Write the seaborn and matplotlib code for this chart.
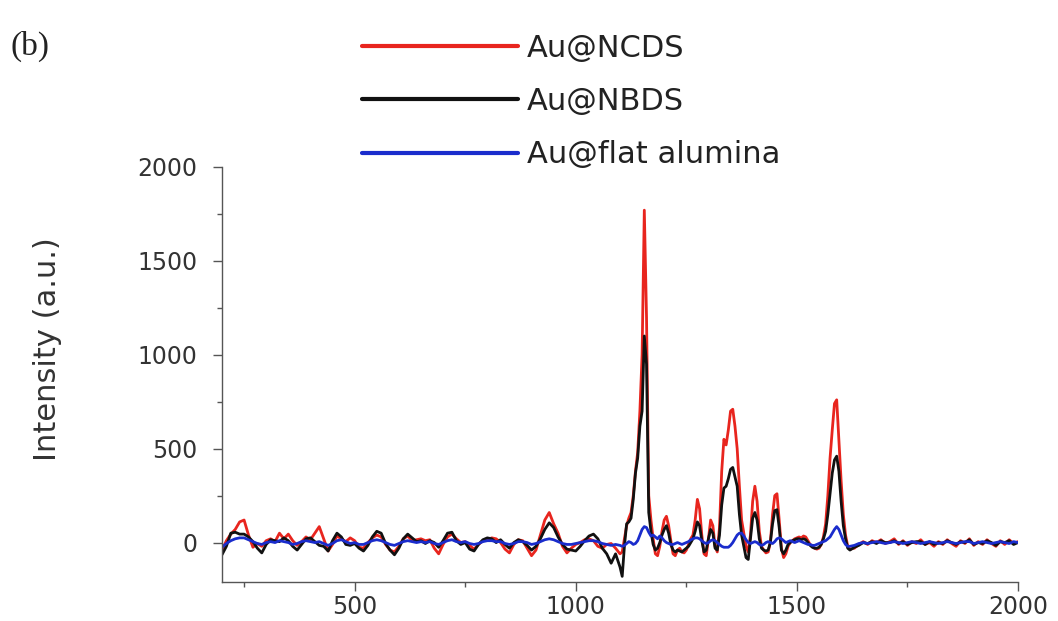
import matplotlib
matplotlib.use('Agg')
import matplotlib.pyplot as plt
import numpy as np
import pandas as pd
import seaborn as sns

# wavenumber sampling grid (cm-1): coarse outside the band region, fine inside
wn_low = np.arange(200, 1100, 10)
wn_band = np.arange(1100, 1625, 5)
wn_high = np.arange(1630, 2010, 10)
wavenumber = np.concatenate([wn_low, wn_band, wn_high])

# Au@NCDS (red)
ncds_low = [
    -40, 10, 45, 70, 110, 120, 40, -25, -5, -20,
    10, 20, 5, 50, 20, 45, 10, -15, 5, 30,
    15, 50, 85, 20, -45, -10, 35, 20, 5, 25,
    10, -25, -30, 0, 25, 40, 30, -10, -40, -50,
    -20, 20, 35, 10, 15, 20, 10, 15, -30, -60,
    -10, 30, 45, 20, 0, 5, -15, -35, -10, 10,
    15, 25, 20, 0, -35, -55, -10, 15, 10, -30,
    -70, -40, 40, 120, 160, 100, 50, -20, -55, -30,
    -10, 0, 15, 20, 10, -20, -30, -10, -5, -30,
]
ncds_band = [
    -60, -50, 20, 90, 130, 160, 250, 380, 480, 700,
    1000, 1770, 1200, 250, 120, 20, -60, -70, -20, 60,
    120, 140, 90, 10, -60, -70, -40, -30, -50, -55,
    -40, -10, 20, 40, 120, 230, 180, 40, -60, -70,
    20, 120, 90, -20, -50, 80, 380, 550, 520, 600,
    700, 710, 620, 500, 300, 120, 50, -20, -50, 40,
    220, 300, 220, 60, -20, -40, -55, -50, 0, 150,
    250, 260, 120, -30, -80, -60, -20, 0, 10, 20,
    25, 30, 25, 35, 30, 10, -10, -20, -30, -35,
    -30, -10, 30, 100, 250, 450, 600, 740, 760, 550,
    330, 150, 40, -20, -35,
]
ncds_high = [
    -30, -10, 5, -10, 10, 0, 15, -5, 5, 20,
    -10, 10, -15, 5, -5, 15, -10, 0, -20, 5,
    -10, 15, -5, -20, 10, -5, 20, -15, 5, -10,
    15, -5, -20, 10, -10, 15, -5, 5,
]

# Au@NBDS (black)
nbds_low = [
    -65, -20, 50, 55, 45, 45, 30, 5, -30, -55,
    -10, 15, 10, 5, 25, 10, -20, -40, -10, 20,
    25, 5, -15, -20, -45, 10, 50, 30, -10, -15,
    -5, -30, -45, -15, 30, 60, 50, -5, -40, -65,
    -30, 20, 45, 25, 5, 10, -5, 10, 0, -25,
    10, 50, 55, 10, -10, 0, -35, -45, -10, 15,
    25, 20, 0, 15, -10, -30, 0, 15, 5, -15,
    -40, -20, 20, 70, 105, 80, 30, -10, -35, -40,
    -45, -20, 10, 35, 45, 20, -30, -60, -110, -60,
]
nbds_band = [
    -130, -180, -20, 100, 110, 130, 230, 370, 450, 620,
    700, 1100, 950, 160, 60, -10, -40, -30, 0, 40,
    70, 90, 50, -10, -40, -50, -40, -45, -50, -40,
    -30, -20, 0, 20, 60, 110, 90, 10, -50, -40,
    20, 70, 50, -30, -40, 40, 200, 290, 300, 340,
    390, 400, 350, 300, 150, 40, -20, -80, -90, 20,
    130, 160, 120, 20, -30, -40, -45, -40, 0, 100,
    170, 175, 80, -40, -60, -40, -10, 0, 10, 15,
    20, 20, 15, 20, 15, 0, -15, -25, -30, -30,
    -25, -10, 20, 60, 150, 260, 370, 440, 460, 380,
    220, 90, 20, -30, -40,
]
nbds_high = [
    -25, -15, 0, -5, 5, -5, 10, 0, 0, 10,
    -5, 5, -10, 0, 5, 5, -10, 5, -10, 0,
    -5, 10, 0, -10, 5, 0, 15, -10, 0, -5,
    10, 0, -15, 5, 0, 10, -10, 0,
]

# Au@flat alumina (blue)
flat_low = [
    -25, -5, 10, 20, 25, 25, 15, 5, -5, -10,
    0, 5, 0, 10, 5, 0, -10, -5, 5, 10,
    5, 0, 5, -5, -15, -5, 10, 15, 5, -5,
    0, -10, -10, 0, 10, 15, 10, 0, -10, -15,
    -5, 5, 10, 5, 0, 5, 0, 5, -5, -10,
    0, 10, 15, 5, 0, 5, -5, -10, -5, 5,
    10, 10, 5, 5, -5, -10, -5, 5, 5, 0,
    -10, -5, 5, 15, 20, 15, 5, -5, -10, -10,
    -5, 0, 5, 10, 10, 5, -5, -10, -15, -10,
]
flat_band = [
    -15, -20, -15, -5, 5, 0, -10, -5, 10, 40,
    70, 85, 80, 55, 35, 40, 30, 20, 35, 25,
    10, 0, -5, -10, -10, -5, 0, -5, -10, -5,
    0, 5, 15, 20, 25, 25, 20, 10, 0, -5,
    0, 10, 15, 10, 0, -10, -20, -25, -25, -25,
    -15, 0, 20, 40, 50, 50, 35, 15, 0, -5,
    0, 5, 0, -10, -15, -10, 0, 5, 0, -5,
    5, 20, 25, 20, 10, 0, 5, 10, 5, 0,
    5, 10, 5, 0, -5, -10, -10, -15, -15, -10,
    -5, 0, 5, 10, 20, 30, 50, 70, 85, 70,
    40, 10, -10, -20, -20,
]
flat_high = [
    -15, -5, 0, -5, 0, 5, 0, -5, 0, 5,
    0, -5, 0, 5, 0, -5, 0, 5, 0, -5,
    0, 5, 0, -5, 0, 5, 5, -5, 0, 5,
    0, -5, 0, 5, 0, -5, 5, 0,
]

series_names = ['Au@NCDS', 'Au@NBDS', 'Au@flat alumina']
series_colors = ['#e8251e', '#111111', '#1a2ccc']
series_values = [
    ncds_low + ncds_band + ncds_high,
    nbds_low + nbds_band + nbds_high,
    flat_low + flat_band + flat_high,
]

frames = []
for name, vals in zip(series_names, series_values):
    frames.append(pd.DataFrame({'wavenumber': wavenumber, 'intensity': vals, 'sample': name}))
df = pd.concat(frames, ignore_index=True)

sns.set_theme(style='ticks')
plt.rcParams['font.family'] = ['DejaVu Sans']

fig = plt.figure(figsize=(10.58, 6.21), dpi=100)
ax = fig.add_axes([0.2098, 0.0628, 0.7524, 0.6683])

sns.lineplot(data=df, x='wavenumber', y='intensity', hue='sample',
             hue_order=series_names, palette=series_colors,
             estimator=None, sort=False, linewidth=2, ax=ax)

ax.set_xlim(200, 2000)
ax.set_ylim(-210, 2000)
ax.set_xticks([500, 1000, 1500, 2000])
ax.set_xticks([250, 750, 1250, 1750], minor=True)
ax.set_yticks([0, 500, 1000, 1500, 2000])
ax.set_yticks([250, 750, 1250, 1750], minor=True)

axis_grey = '#555555'
for side in ['top', 'right']:
    ax.spines[side].set_visible(False)
for side in ['left', 'bottom']:
    ax.spines[side].set_color(axis_grey)
    ax.spines[side].set_linewidth(1.0)

ax.tick_params(which='major', direction='out', length=6.5, width=1,
               color=axis_grey, labelsize=17, labelcolor='#333333')
ax.tick_params(which='minor', direction='out', length=3.5, width=1, color=axis_grey)
ax.tick_params(axis='y', which='major', pad=11)
ax.tick_params(axis='x', which='major', pad=3)

ax.set_xlabel('')
ax.set_ylabel('Intensity (a.u.)', fontsize=22, color='#333333')
ax.yaxis.set_label_coords(-0.201, 0.56)

handles, labels = ax.get_legend_handles_labels()
ax.legend(handles, labels, loc='upper left', bbox_to_anchor=(0.342, 0.946),
          bbox_transform=fig.transFigure, frameon=False, fontsize=22,
          handlelength=5.1, handletextpad=0.3, labelspacing=0.8,
          borderpad=0, borderaxespad=0, labelcolor='#222222')
for line in ax.get_legend().get_lines():
    line.set_linewidth(3)

fig.text(0.01, 0.925, '(b)', fontsize=24, family=['Liberation Serif', 'DejaVu Serif'],
         color='#222222', va='center', ha='left')

fig.savefig('out.png', dpi=100, facecolor='white')
